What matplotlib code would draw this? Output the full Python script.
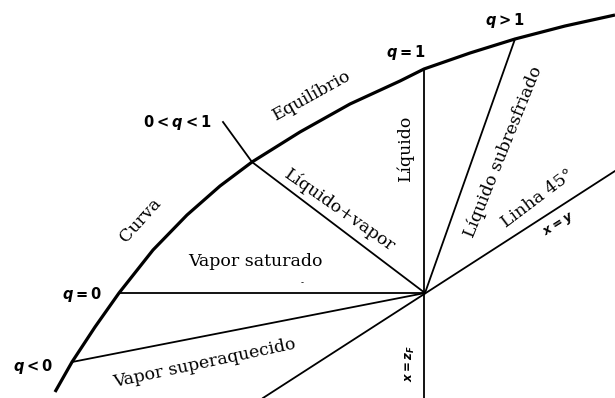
import matplotlib.pyplot as plt

plt.rcParams['mathtext.fontset'] = 'custom'
plt.rcParams['mathtext.it'] = 'DejaVu Sans:italic:bold'
plt.rcParams['mathtext.rm'] = 'DejaVu Sans:bold'

# equilibrium curve (pixel-like coords, y down)
curve_x = [55, 72, 95, 119, 153, 187, 220, 252, 300, 350, 400, 424, 470, 515, 565, 615]
curve_y = [392, 362, 327, 293, 250, 215, 186, 162, 132, 104, 81, 69, 53, 39, 26, 15]

# feed point
feed = (425, 293)

# q-lines, each from a point on the curve to the feed point
qline_x = {
    'q<0': [72, 425],
    'q=0': [119, 425],
    '0<q<1': [223, 252, 425],
    'q>1': [515, 425],
}
qline_y = {
    'q<0': [362, 293],
    'q=0': [293, 293],
    '0<q<1': [122, 162, 293],
    'q>1': [39, 293],
}

# vertical x = zF line and 45 degree line
vert_x = [424, 424]
vert_y = [69, 398]
diag_x = [263, 615]
diag_y = [398, 171]

fig = plt.figure(figsize=(6.15, 3.98), dpi=100)
ax = fig.add_axes([0, 0, 1, 1])
ax.set_xlim(0, 615)
ax.set_ylim(398, 0)
ax.axis('off')

ax.plot(curve_x, curve_y, color='black', lw=2.3, solid_capstyle='butt',
        solid_joinstyle='round')
for k in qline_x:
    ax.plot(qline_x[k], qline_y[k], color='black', lw=1.3)
ax.plot(vert_x, vert_y, color='black', lw=1.3)
ax.plot(diag_x, diag_y, color='black', lw=1.3)

# q labels
mk = dict(fontsize=10.5, ha='center', va='center', color='black')
ax.text(33, 366, r'$q < 0$', **mk)
ax.text(82, 294, r'$q = 0$', **mk)
ax.text(177, 122, r'$0 < q < 1$', **mk)
ax.text(406, 52, r'$q = 1$', **mk)
ax.text(505, 20, r'$q > 1$', **mk)
ax.text(410, 363, r'$x = z_F$', rotation=90, fontsize=8.5, ha='center', va='center')
ax.text(559, 225, r'$x = y$', rotation=32, fontsize=9, ha='center', va='center')

# region labels
sf = dict(family='DejaVu Serif', fontsize=12.5, ha='center', va='center', rotation_mode='anchor')
ax.text(140, 220, 'Curva', rotation=48, **sf)
ax.text(312, 95, 'Equilíbrio', rotation=29, **sf)
ax.text(340, 210, 'Líquido+vapor', rotation=-35, **sf)
ax.text(405, 148, 'Líquido', rotation=90, **sf)
ax.text(503, 152, 'Líquido subresfriado', rotation=68, **sf)
ax.text(538, 198, 'Linha 45°', rotation=37, **sf)
ax.text(255, 262, 'Vapor saturado', **sf)
ax.text(205, 363, 'Vapor superaquecido', rotation=12, **sf)
ax.text(302, 283, '-', fontsize=6, ha='center', va='center')

fig.savefig('out.png', dpi=100)
